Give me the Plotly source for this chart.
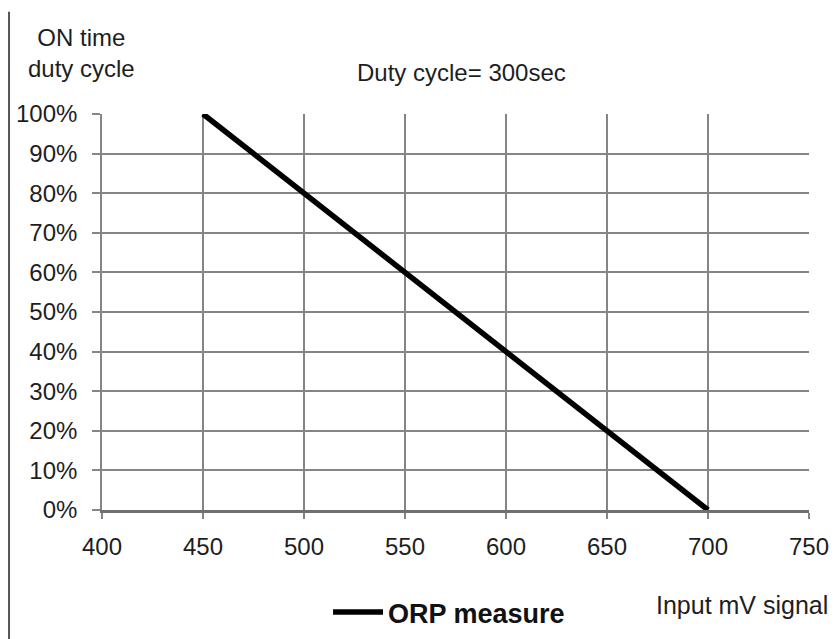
import plotly.graph_objects as go

# ORP controller: ON-time share of the duty cycle vs input mV signal
input_mv = [450, 700]
on_time_pct = [100, 0]
series_name = "ORP measure"

x_ticks = [400, 450, 500, 550, 600, 650, 700, 750]
y_ticks = [0, 10, 20, 30, 40, 50, 60, 70, 80, 90, 100]
y_tick_labels = [f"{v}%" for v in y_ticks]

FONT = "Liberation Sans, Arial, sans-serif"
GRID = "#858585"
TXT = "#1e1e1e"

fig = go.Figure()
fig.add_trace(go.Scatter(
    x=input_mv, y=on_time_pct, mode="lines", name=f"<b>{series_name}</b>",
    line=dict(color="black", width=5.5),
))

fig.update_xaxes(
    range=[400, 750], tickvals=x_ticks, ticktext=[str(v) for v in x_ticks],
    showgrid=True, gridcolor=GRID, gridwidth=1.6,
    showline=True, linecolor="#707070", linewidth=3, zeroline=False,
    ticks="outside", ticklen=6, tickcolor=GRID, tickwidth=1.6,
    ticklabelstandoff=7, automargin=False,
    tickfont=dict(family=FONT, size=24, color=TXT),
)
fig.update_yaxes(
    range=[0, 100], tickvals=y_ticks, ticktext=y_tick_labels,
    showgrid=True, gridcolor=GRID, gridwidth=1.6,
    showline=True, linecolor=GRID, linewidth=1.6, zeroline=False,
    ticks="outside", ticklen=8, tickcolor=GRID, tickwidth=1.6,
    ticklabelstandoff=10, automargin=False,
    tickfont=dict(family=FONT, size=24, color=TXT),
)

# frame line down the left edge of the figure
fig.add_shape(type="line", xref="paper", yref="paper", x0=-0.1315, x1=-0.1315,
              y0=-0.35, y1=1.258, line=dict(color="#555", width=2))

fig.add_annotation(text="ON time<br>duty cycle", xref="paper", yref="paper",
                   x=-0.0283, y=1.154, xanchor="center", yanchor="middle",
                   showarrow=False, align="center",
                   font=dict(family=FONT, size=24, color=TXT))
fig.add_annotation(text="Duty cycle= 300sec", xref="paper", yref="paper",
                   x=0.509, y=1.106, xanchor="center", yanchor="middle",
                   showarrow=False, font=dict(family=FONT, size=24, color=TXT))
fig.add_annotation(text="Input mV signal", xref="paper", yref="paper",
                   x=1.0297, y=-0.24, xanchor="right", yanchor="middle",
                   showarrow=False, font=dict(family=FONT, size=25, color=TXT))

fig.update_layout(
    width=838, height=639,
    margin=dict(l=102, r=29, t=114, b=129, autoexpand=False),
    paper_bgcolor="white", plot_bgcolor="white",
    showlegend=True,
    legend=dict(orientation="h", x=0.3197, y=-0.259, xanchor="left",
                yanchor="middle", font=dict(family=FONT, size=27, color="#111"),
                itemwidth=50),
)

fig.write_html("out.html")
